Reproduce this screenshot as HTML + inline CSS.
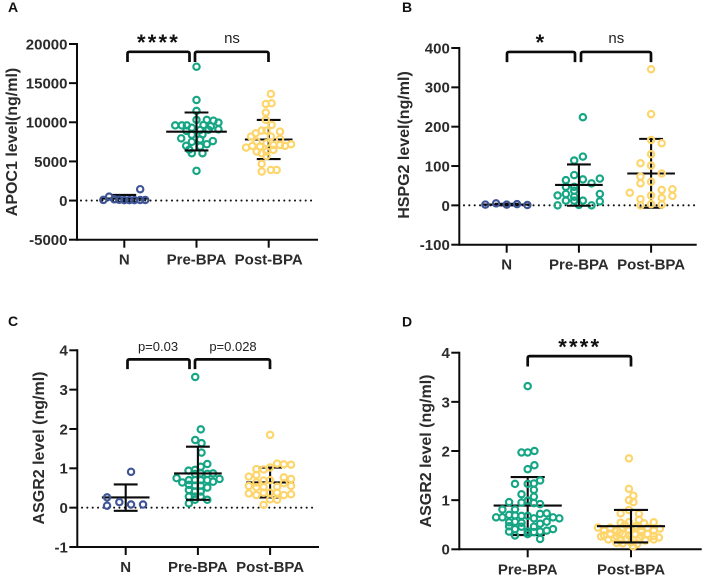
<!DOCTYPE html>
<html lang="en">
<head>
<meta charset="utf-8">
<title>Biomarker levels by group</title>
<style>
html,body{margin:0;padding:0;background:#fff;width:708px;height:580px;overflow:hidden}
svg{display:block;filter:blur(0.3px)}
text{font-family:"Liberation Sans",Arial,sans-serif;fill:#2b2b2b}
.tick{font-size:15px;font-weight:700}
.title{font-size:16px;font-weight:700}
.letter{font-size:14px;font-weight:700;fill:#111}
.ann{font-size:15px;fill:#222}
.pval{font-size:13px;fill:#222}
.star{font-size:22px;font-weight:700;fill:#111;letter-spacing:2.2px}
</style>
</head>
<body>
<svg id="figure" xmlns="http://www.w3.org/2000/svg" width="708" height="580" viewBox="0 0 708 580"></svg>
<script>
const threeGroups = ['N', 'Pre-BPA', 'Post-BPA'];
const twoGroups = ['Pre-BPA', 'Post-BPA'];

const aTicks = [-5000, 0, 5000, 10000, 15000, 20000];
const bTicks = [-100, 0, 100, 200, 300, 400];
const cTicks = [-1, 0, 1, 2, 3, 4];
const dTicks = [0, 1, 2, 3, 4];

const aNValues = [80, 500, 170, 100, 60, 60, 60, 1450, 70, 70];
const aNSpread = [-.29, -.21, -.14, -.07, 0, .07, .14, .22, .22, .29];
const aPreValues = [17100, 12850, 11450, 9600, 9600, 9600, 10300, 10300, 10200, 9950, 9650, 9500, 9100, 9300, 9000, 9050, 7950, 8450, 8400, 7500, 7600, 7000, 7200, 6900, 6050, 6050, 3800, 8900, 7800, 6500];
const aPreSpread = [0, 0, 0, -.295, -.203, -.134, 0, .143, .235, .304, .097, .198, .304, -.065, .05, .166, -.212, .083, -.065, -.065, .226, -.143, .143, .05, -.065, .083, 0, -.14, .05, -.1];
const aPostValues = [13620, 12340, 12430, 11230, 10300, 9660, 8810, 8940, 8940, 8600, 8170, 8170, 7870, 7530, 6770, 6980, 6890, 7320, 7100, 7100, 6980, 7190, 6260, 6260, 6470, 6040, 5700, 4680, 3700, 3910, 3910];
const aPostSpread = [.03, -.04, .04, -.04, -.04, .04, .157, -.03, -.097, -.18, -.244, .03, .157, -.166, -.313, -.226, -.12, -.03, .065, .157, .226, .31, -.166, -.03, .065, -.097, -.03, -.097, -.097, .03, .11];
const aMeans = [250, 8800, 7800];
const aUpper = [720, 11250, 10300];
const aLower = [-200, 6400, 5300];

const bNValues = [2, 5, 2, 3, 1];
const bNSpread = [-.295, -.147, 0, .143, .286];
const bPreValues = [224, 124, 114, 77, 64, 66, 68, 56, 47, 47, 29, 25, 29, 37, 22, 12, 12, 12, 10, 0, 0, 1];
const bPreSpread = [.055, .055, -.065, -.065, -.18, .055, .29, .175, -.18, -.065, .29, -.295, -.18, -.065, -.065, -.18, -.065, .055, .29, -.295, .175, 0];
const bPostValues = [346, 232, 166, 158, 130, 107, 101, 81, 73, 56, 60, 39, 41, 32, 25, 24, 16, 19, 0, 3, 2];
const bPostSpread = [0, 0, 0, .147, 0, -.147, 0, .147, -.147, -.147, 0, .147, .295, -.295, 0, .295, -.147, .147, -.147, 0, .147];
const bMeans = [2, 52, 81];
const bUpper = [4, 104, 169];
const bLower = [0, -1, -6];

const cNValues = [.91, .26, .05, .14, .08, .08];
const cNSpread = [.074, -.258, -.258, -.088, .074, .24];
const cPreValues = [3.32, 1.99, 1.72, 1.64, 1.40, 1.11, 1.04, .96, .94, .87, .86, .87, .86, .75, .73, .64, .70, .70, .70, .70, .66, .58, .56, .56, .51, .45, .41, .41, .28, .28, .28, .20, .20, .11];
const cPreSpread = [-.037, .04, -.037, .05, .05, .13, .04, -.04, -.13, .21, .13, .04, -.04, -.295, .30, -.217, -.125, -.04, .04, .13, .21, -.125, -.04, .04, .13, -.125, -.04, .04, -.125, -.04, .04, .13, -.04, -.125];
const cPostValues = [1.85, 1.09, 1.10, 1.12, 1.02, .97, .98, .83, .79, .77, .73, .69, .70, .64, .55, .52, .52, .53, .62, .55, .36, .32, .38, .38, .38, .32, .34, .21, .20, .07];
const cPostSpread = [0, .29, .19, .097, 0, -.09, -.19, -.19, -.295, .19, .29, -.09, 0, -.19, -.295, -.19, -.09, .097, .19, .29, -.295, -.19, -.09, 0, .097, .19, .29, 0, .097, -.09];
const cMeans = [.26, .87, .64];
const cUpper = [.59, 1.55, 1.02];
const cLower = [-.08, .20, .26];

const dPreValues = [3.32, 1.97, 1.97, 2.0, 1.71, 1.63, 1.33, 1.33, 1.34, 1.40, 1.21, 1.12, 1.07, .96, .95, .99, .94, .92, .81, .81, .65, .65, .70, .69, .68, .68, .63, .72, .73, .65, .63, .55, .56, .54, .52, .56, .36, .41, .46, .36, .35, .36, .38, .41, .28, .31, .21, .47, .46];
const dPreSpread = [0, -.06, 0, .065, .065, 0, -.123, 0, .06, .12, .06, -.06, .06, -.18, -.06, 0, .06, .12, -.245, -.123, -.306, -.245, -.18, -.123, -.06, 0, .06, .12, .184, .245, .306, -.18, -.123, -.06, .12, .184, -.18, -.123, -.06, 0, .06, .12, .184, .245, -.123, 0, .12, -.18, .06];
const dPostValues = [1.85, 1.23, 1.09, 1.0, .96, .73, .80, .72, .60, .54, .55, .55, .53, .44, .38, .44, .37, .44, .38, .45, .37, .44, .38, .42, .28, .30, .27, .31, .28, .30, .27, .31, .27, .20, .22, .18, .21, .19, .22, .18, .20, .13, .12, .14, .11, .06, .50, .47, .35, .34, .26, .24];
const dPostSpread = [-.02, -.02, .023, -.02, .023, -.1, -.02, .077, .077, -.1, -.02, .22, .126, -.32, -.26, -.2, -.14, -.08, -.02, .04, .1, .16, .22, .28, -.26, -.2, -.14, -.08, -.02, .04, .1, .16, .22, -.22, -.16, -.1, -.04, .02, .08, .14, .22, -.14, -.08, 0, .06, .02, -.06, .05, .1, -.11, -.29, .27];
const dMeans = [.89, .47];
const dUpper = [1.47, .80];
const dLower = [.29, .14];

const NAVY = '#3e5597', GREEN = '#16a585', YELLOW = '#fdd56a', INK = '#0b0b0b';
const SVGNS = 'http://www.w3.org/2000/svg';
const fig = document.getElementById('figure');

function make(parent, tag, attrs, text) {
  const el = document.createElementNS(SVGNS, tag);
  for (const k in attrs) el.setAttribute(k, attrs[k]);
  if (text !== undefined) el.textContent = text;
  parent.appendChild(el);
  return el;
}

function drawPanel(cfg) {
  const g = make(fig, 'g', {});
  
  

  const yMin = cfg.ticks[0], yMax = cfg.ticks[cfg.ticks.length - 1];
  const y = v => cfg.yBottom + (v - yMin) / (yMax - yMin) * (cfg.yTop - cfg.yBottom);
  const x = c => cfg.x0 + c * cfg.step;

  const letter = make(g, 'text', {class: 'letter', x: cfg.letterX, y: cfg.letterY}, cfg.letter);
  
  

  const yt = make(g, 'text', {class: 'title', 'text-anchor': 'middle', transform: 'translate(' + cfg.titleX + ',' + cfg.titleY + ') rotate(-90)'}, cfg.title);
  
  

  if (yMin < 0) {
    const zero = make(g, 'line', {x1: cfg.zeroFrom, x2: cfg.zeroTo, y1: y(0), y2: y(0), stroke: '#111', 'stroke-width': 2.1, 'stroke-linecap': 'round', 'stroke-dasharray': '0 5.35'});
    
    
  }

  const yAxis = make(g, 'line', {x1: cfg.axisX, x2: cfg.axisX, y1: y(yMax) - 1, y2: y(yMin) + 1, stroke: INK, 'stroke-width': 2});
  
  
  const xAxis = make(g, 'line', {x1: cfg.axisX, x2: cfg.axisEnd, y1: y(yMin), y2: y(yMin), stroke: INK, 'stroke-width': 2});
  
  

  cfg.ticks.forEach(t => {
    const tk = make(g, 'line', {x1: cfg.axisX - 8, x2: cfg.axisX, y1: y(t), y2: y(t), stroke: INK, 'stroke-width': 2});
    
    
    const lb = make(g, 'text', {class: 'tick', 'text-anchor': 'end', x: cfg.axisX - 9.5, y: y(t) + 5.4}, String(t));
    
    
  });

  cfg.categories.forEach((c, i) => {
    const tk = make(g, 'line', {x1: x(i), x2: x(i), y1: y(yMin), y2: y(yMin) + 8, stroke: INK, 'stroke-width': 2});
    
    
    const lb = make(g, 'text', {class: 'tick', 'text-anchor': 'middle', x: x(i), y: y(yMin) + 25}, c);
    
    
  });

  function drawBars(s, i) {
    const b = make(g, 'g', {stroke: INK, 'stroke-width': 2.1, fill: 'none'});
    
    
    const cx = x(i), cap = 0.165 * cfg.step, mean = (s.meanWidth || 0.33) * cfg.step;
    make(b, 'line', {x1: cx, x2: cx, y1: y(cfg.upper[i]), y2: y(cfg.lower[i])});
    make(b, 'line', {x1: cx - cap, x2: cx + cap, y1: y(cfg.upper[i]), y2: y(cfg.upper[i])});
    make(b, 'line', {x1: cx - cap, x2: cx + cap, y1: y(cfg.lower[i]), y2: y(cfg.lower[i])});
    make(b, 'line', {x1: cx - mean, x2: cx + mean, y1: y(cfg.means[i]), y2: y(cfg.means[i])});
  }
  function drawPoints(s, i) {
    s.values.forEach((v, j) => {
      const p = make(g, 'circle', {cx: x(i + s.spread[j]), cy: y(v), r: 3.15, fill: 'none', stroke: s.color, 'stroke-width': 2.2});
      
      
    });
  }
  cfg.series.forEach((s, i) => {
    if (s.barsOnTop) { drawPoints(s, i); drawBars(s, i); }
    else { drawBars(s, i); drawPoints(s, i); }
  });

  cfg.brackets.forEach(br => {
    const r = 2;
    const top = y(br.top), bot = y(br.bottom);
    const d = 'M' + br.from + ' ' + bot + 'V' + (top + r) + 'Q' + br.from + ' ' + top + ' ' + (br.from + r) + ' ' + top +
      'H' + (br.to - r) + 'Q' + br.to + ' ' + top + ' ' + br.to + ' ' + (top + r) + 'V' + bot;
    const path = make(g, 'path', {d: d, fill: 'none', stroke: INK, 'stroke-width': 2.7});
    
    
    const lb = make(g, 'text', {class: br.cls, 'text-anchor': 'middle', x: br.labelX, y: br.labelY}, br.label);
    
    
  });
}

drawPanel({
  letter: 'A', letterX: 8, letterY: 12, title: 'APOC1 level(ng/ml)', titleX: 17, titleY: 142,
  ticks: aTicks, yTop: 44, yBottom: 239.7, axisX: 77, axisEnd: 318,
  categories: threeGroups, x0: 124.3, step: 72.2, zeroFrom: 81, zeroTo: 314,
  means: aMeans, upper: aUpper, lower: aLower,
  series: [
    {values: aNValues, spread: aNSpread, color: NAVY},
    {values: aPreValues, spread: aPreSpread, color: GREEN, barsOnTop: true, meanWidth: 0.42},
    {values: aPostValues, spread: aPostSpread, color: YELLOW}
  ],
  brackets: [
    {from: 127.5, to: 189.5, top: 19000, bottom: 17700, label: '****', cls: 'star', labelX: 158.5, labelY: 50},
    {from: 195, to: 268.5, top: 19000, bottom: 17700, label: 'ns', cls: 'ann', labelX: 232, labelY: 43}
  ]
});

drawPanel({
  letter: 'B', letterX: 402, letterY: 12, title: 'HSPG2 level(ng/ml)', titleX: 409, titleY: 145,
  ticks: bTicks, yTop: 48, yBottom: 244.7, axisX: 459.3, axisEnd: 696.7,
  categories: threeGroups, x0: 506.7, step: 72.2, zeroFrom: 464, zeroTo: 696,
  means: bMeans, upper: bUpper, lower: bLower,
  series: [
    {values: bNValues, spread: bNSpread, color: NAVY},
    {values: bPreValues, spread: bPreSpread, color: GREEN, barsOnTop: true},
    {values: bPostValues, spread: bPostSpread, color: YELLOW}
  ],
  brackets: [
    {from: 507, to: 575, top: 390, bottom: 364, label: '*', cls: 'star', labelX: 541, labelY: 50},
    {from: 581, to: 651, top: 390, bottom: 364, label: 'ns', cls: 'ann', labelX: 616.3, labelY: 43}
  ]
});

drawPanel({
  letter: 'C', letterX: 8, letterY: 326, title: 'ASGR2 level (ng/ml)', titleX: 44, titleY: 448,
  ticks: cTicks, yTop: 350.3, yBottom: 547, axisX: 77.3, axisEnd: 319,
  categories: threeGroups, x0: 125.7, step: 72.2, zeroFrom: 82, zeroTo: 315,
  means: cMeans, upper: cUpper, lower: cLower,
  series: [
    {values: cNValues, spread: cNSpread, color: NAVY},
    {values: cPreValues, spread: cPreSpread, color: GREEN, barsOnTop: true},
    {values: cPostValues, spread: cPostSpread, color: YELLOW}
  ],
  brackets: [
    {from: 127.5, to: 189.5, top: 3.77, bottom: 3.52, label: 'p=0.03', cls: 'pval', labelX: 158, labelY: 351},
    {from: 195, to: 270, top: 3.77, bottom: 3.52, label: 'p=0.028', cls: 'pval', labelX: 233, labelY: 351}
  ]
});

drawPanel({
  letter: 'D', letterX: 402, letterY: 326.5, title: 'ASGR2 level (ng/ml)', titleX: 431, titleY: 451,
  ticks: dTicks, yTop: 352.7, yBottom: 549.3, axisX: 459.3, axisEnd: 701.7,
  categories: twoGroups, x0: 527.7, step: 103.3,
  means: dMeans, upper: dUpper, lower: dLower,
  series: [
    {values: dPreValues, spread: dPreSpread, color: GREEN},
    {values: dPostValues, spread: dPostSpread, color: YELLOW, barsOnTop: true}
  ],
  brackets: [
    {from: 527.7, to: 631, top: 3.93, bottom: 3.72, label: '****', cls: 'star', labelX: 579.8, labelY: 354.5}
  ]
});
</script>
</body>
</html>
